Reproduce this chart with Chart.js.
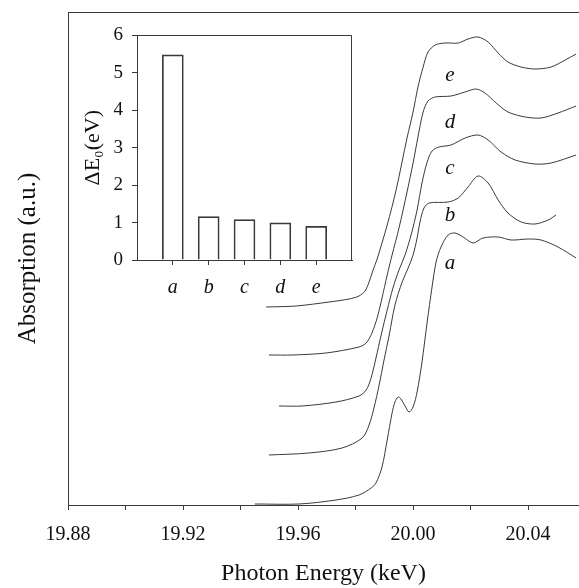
<!DOCTYPE html>
<html>
<head>
<meta charset="utf-8">
<title>XANES spectra</title>
<script src="https://cdn.jsdelivr.net/npm/chart.js@4.4.1/dist/chart.umd.min.js"></script>
<style>
  body { margin: 0; background: #fff; }
  #wrap { position: relative; width: 579px; height: 588px; }
  #main { position: absolute; left: 0; top: 0; }
  #inset { position: absolute; left: 75px; top: 15px; }
</style>
</head>
<body>
<div id="wrap">
  <canvas id="main" width="579" height="588"></canvas>
  <canvas id="inset" width="285" height="290"></canvas>
</div>
<script>
// Spectra, stacked bottom (a) to top (e); energy in keV, absorption in a.u. incl. offset
const energyA = [19.9450, 19.9603, 19.9732, 19.9812, 19.9854, 19.9871, 19.9892, 19.9910, 19.9927, 19.9937, 19.9948, 19.9958, 19.9972, 19.9986, 20.0000, 20.0014, 20.0031, 20.0049, 20.0066, 20.0080, 20.0097, 20.0122, 20.0146, 20.0174, 20.0209, 20.0243, 20.0296, 20.0341, 20.0400, 20.0445, 20.0504, 20.0567];
const absA    = [0.01, 0.01, 0.05, 0.10, 0.17, 0.22, 0.38, 0.65, 0.92, 1.03, 1.08, 1.06, 0.99, 0.93, 0.98, 1.13, 1.43, 1.83, 2.18, 2.43, 2.58, 2.70, 2.72, 2.68, 2.62, 2.67, 2.68, 2.65, 2.66, 2.65, 2.58, 2.47];

const energyB = [19.9499, 19.9638, 19.9753, 19.9823, 19.9847, 19.9864, 19.9882, 19.9899, 19.9917, 19.9937, 19.9962, 19.9983, 20.0000, 20.0014, 20.0024, 20.0038, 20.0056, 20.0122, 20.0157, 20.0191, 20.0226, 20.0261, 20.0296, 20.0330, 20.0376, 20.0424, 20.0470, 20.0497];
const absB    = [0.50, 0.52, 0.57, 0.67, 0.80, 0.97, 1.20, 1.45, 1.70, 2.00, 2.23, 2.37, 2.50, 2.67, 2.83, 2.97, 3.02, 3.03, 3.07, 3.18, 3.29, 3.22, 3.05, 2.92, 2.83, 2.81, 2.85, 2.90];

const energyC = [19.9534, 19.9614, 19.9732, 19.9812, 19.9837, 19.9854, 19.9871, 19.9889, 19.9910, 19.9930, 19.9951, 19.9972, 19.9993, 20.0014, 20.0031, 20.0049, 20.0066, 20.0090, 20.0132, 20.0181, 20.0226, 20.0261, 20.0306, 20.0355, 20.0424, 20.0480, 20.0567];
const absC    = [0.99, 0.99, 1.03, 1.09, 1.15, 1.27, 1.47, 1.70, 1.95, 2.17, 2.35, 2.50, 2.70, 2.95, 3.22, 3.43, 3.54, 3.58, 3.60, 3.67, 3.70, 3.65, 3.53, 3.45, 3.41, 3.42, 3.50];

const energyD = [19.9499, 19.9579, 19.9697, 19.9812, 19.9837, 19.9857, 19.9875, 19.9892, 19.9910, 19.9927, 19.9951, 19.9979, 20.0000, 20.0017, 20.0035, 20.0052, 20.0077, 20.0132, 20.0181, 20.0219, 20.0250, 20.0289, 20.0330, 20.0390, 20.0445, 20.0504, 20.0567];
const absD    = [1.50, 1.50, 1.52, 1.58, 1.62, 1.72, 1.87, 2.07, 2.30, 2.50, 2.77, 3.13, 3.42, 3.68, 3.93, 4.04, 4.08, 4.09, 4.13, 4.16, 4.12, 4.02, 3.93, 3.88, 3.87, 3.92, 3.99];

const energyE = [19.9489, 19.9593, 19.9708, 19.9777, 19.9812, 19.9833, 19.9847, 19.9861, 19.9875, 19.9910, 19.9941, 19.9979, 20.0000, 20.0017, 20.0035, 20.0052, 20.0077, 20.0111, 20.0157, 20.0191, 20.0226, 20.0261, 20.0296, 20.0330, 20.0376, 20.0424, 20.0480, 20.0529, 20.0567];
const absE    = [1.98, 1.99, 2.03, 2.06, 2.09, 2.14, 2.23, 2.35, 2.46, 2.80, 3.15, 3.67, 3.93, 4.18, 4.38, 4.53, 4.60, 4.62, 4.62, 4.66, 4.68, 4.63, 4.52, 4.43, 4.38, 4.36, 4.38, 4.45, 4.51];

// Sample names and edge shifts for the inset
const sampleNames = ['a', 'b', 'c', 'd', 'e'];
const edgeShift = [5.48, 1.16, 1.08, 0.99, 0.90]; // ΔE0 in eV

// where the curve names sit
const labelEnergy = 20.0128;
const labelLevels = [2.42, 2.90, 3.37, 3.83, 4.30];

const serif = "'Liberation Serif', 'Times New Roman', serif";
const ink = '#111';
const lineInk = '#3a3a3a';

const spectra = [[energyA, absA], [energyB, absB], [energyC, absC], [energyD, absD], [energyE, absE]];

// top edge of the main frame
const topEdge = {
  id: 'topEdge',
  afterDraw(chart) {
    const { ctx, chartArea } = chart;
    const y = Math.round(chartArea.top) + 0.5;
    ctx.save();
    ctx.strokeStyle = lineInk;
    ctx.lineWidth = 1;
    ctx.beginPath();
    ctx.moveTo(chartArea.left, y);
    ctx.lineTo(chartArea.right, y);
    ctx.stroke();
    ctx.restore();
  }
};

// italic a..e next to each spectrum
const curveLabels = {
  id: 'curveLabels',
  afterDatasetsDraw(chart) {
    const { ctx, scales: { x, y } } = chart;
    ctx.save();
    ctx.font = 'italic 21px ' + serif;
    ctx.fillStyle = ink;
    ctx.textAlign = 'center';
    ctx.textBaseline = 'middle';
    sampleNames.forEach((name, i) => {
      ctx.fillText(name, x.getPixelForValue(labelEnergy), y.getPixelForValue(labelLevels[i]));
    });
    ctx.restore();
  }
};

new Chart(document.getElementById('main'), {
  type: 'line',
  data: {
    datasets: spectra.map(([en, ab], i) => ({
      label: sampleNames[i],
      data: en.map((e, k) => ({ x: e, y: ab[k] })),
      borderColor: lineInk,
      borderWidth: 1,
      pointRadius: 0,
      fill: false,
      tension: 0.3
    }))
  },
  options: {
    responsive: false,
    animation: false,
    layout: { padding: { top: 12, right: 0 } },
    plugins: { legend: { display: false }, tooltip: { enabled: false } },
    scales: {
      x: {
        type: 'linear',
        min: 19.88,
        max: 20.0577,
        ticks: {
          stepSize: 0.02,
          includeBounds: false,
          autoSkip: false,
          maxRotation: 0,
          padding: 13,
          color: ink,
          font: { family: serif, size: 20 },
          callback: v => (Math.round(v * 100) % 4 === 0 ? v.toFixed(2) : '')
        },
        grid: { drawOnChartArea: false, tickLength: 5, color: lineInk },
        border: { color: lineInk },
        title: {
          display: true,
          text: 'Photon Energy (keV)',
          color: ink,
          font: { family: serif, size: 24 },
          padding: 0
        },
        afterFit: s => { s.height = 83; }
      },
      y: {
        min: 0,
        max: 4.93,
        ticks: { display: false },
        grid: { display: false },
        border: { color: lineInk },
        title: {
          display: true,
          text: 'Absorption (a.u.)',
          color: ink,
          font: { family: serif, size: 25 },
          padding: { top: 13, bottom: 0 }
        },
        afterFit: s => { s.width = 68; }
      }
    }
  },
  plugins: [topEdge, curveLabels]
});

// top and right edges of the inset box
const insetFrame = {
  id: 'insetFrame',
  afterDraw(chart) {
    const { ctx, chartArea } = chart;
    const t = Math.round(chartArea.top) + 0.5;
    const r = Math.round(chartArea.right) - 0.5;
    ctx.save();
    ctx.strokeStyle = lineInk;
    ctx.lineWidth = 1;
    ctx.beginPath();
    ctx.moveTo(chartArea.left, t);
    ctx.lineTo(r, t);
    ctx.lineTo(r, chartArea.bottom);
    ctx.stroke();
    ctx.restore();
  }
};

new Chart(document.getElementById('inset'), {
  type: 'bar',
  data: {
    datasets: [{
      data: edgeShift.map((v, i) => ({ x: i + 1, y: v })),
      backgroundColor: 'rgba(255,255,255,0)',
      borderColor: lineInk,
      borderWidth: 1,
      borderSkipped: 'bottom',
      barThickness: 21
    }]
  },
  options: {
    responsive: false,
    animation: false,
    layout: { padding: { top: 14, right: 8 } },
    plugins: { legend: { display: false }, tooltip: { enabled: false } },
    scales: {
      x: {
        type: 'linear',
        min: 0,
        max: 6,
        offset: false,
        afterBuildTicks: s => { s.ticks = s.ticks.filter(t => t.value >= 1 && t.value <= 5); },
        ticks: {
          stepSize: 1,
          autoSkip: false,
          maxRotation: 0,
          padding: 11,
          color: ink,
          font: { family: serif, size: 20, style: 'italic' },
          callback: v => sampleNames[Math.round(v) - 1]
        },
        grid: { offset: false, drawOnChartArea: false, tickLength: 5, color: lineInk },
        border: { color: lineInk },
        afterFit: s => { s.height = 45; }
      },
      y: {
        min: 0,
        max: 6,
        ticks: {
          stepSize: 1,
          padding: 9,
          color: ink,
          font: { family: serif, size: 19 }
        },
        grid: { drawOnChartArea: false, tickLength: 5, color: lineInk },
        border: { color: lineInk },
        title: {
          display: true,
          text: 'ΔE₀(eV)',
          color: ink,
          font: { family: serif, size: 22 },
          padding: { top: 5, bottom: 0 }
        },
        afterFit: s => { s.width = 62; }
      }
    }
  },
  plugins: [insetFrame]
});
</script>
</body>
</html>
